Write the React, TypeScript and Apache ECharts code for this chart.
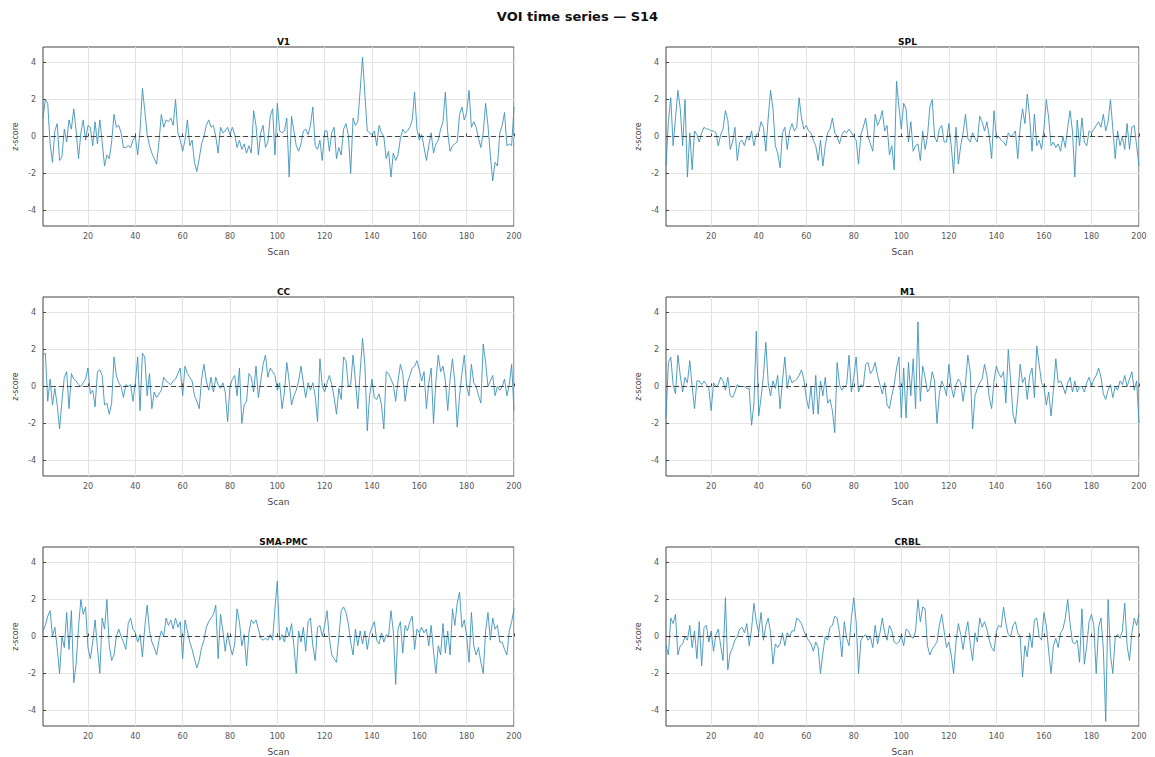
import React, { useEffect, useRef } from "react";
import * as echarts from "echarts";

const MAIN_TITLE = "VOI time series — S14";
const PANEL_TITLES = ["V1", "SPL", "CC", "M1", "SMA-PMC", "CRBL"];
const X_TICKS = [20, 40, 60, 80, 100, 120, 140, 160, 180, 200];
const Y_TICKS = [-4, -2, 0, 2, 4];
const Y_LIMIT = 4.85;

const V1 = [
  1.0, 2.0, 1.8, -0.4, -1.4, 0.3, 0.7, -1.3, -1.1, 0.4,
  -0.3, 0.9, 0.4, 1.5, 0.3, -1.2, 0.2, 0.9, -0.2, 0.6,
  0.5, -0.5, 0.8, -0.4, 0.9, -0.3, -1.6, -1.0, -1.2, -0.3,
  1.2, 0.5, 0.6, 0.2, -0.6, -0.6, -0.5, -0.6, -0.2, 0.0,
  -1.0, 0.3, 2.6, 1.4, 0.1, -0.5, -0.9, -1.2, -1.5, -0.3,
  1.2, 0.5, 0.9, 0.8, 1.0, 0.6, 2.0, 0.2, -0.2, -0.8,
  -0.2, 0.9, -0.5, -0.2, -1.4, -1.9, -1.2, -0.4, 0.0, 0.6,
  0.9, 0.5, 0.6, 0.0, -0.9, 0.5, 0.2, 0.3, 0.5, 0.1,
  0.5, 0.1, -0.6, -0.2, -0.7, -0.4, -0.9, -0.5, -0.9, 1.4,
  0.6, -1.0, 0.2, 0.6, -0.6, -0.3, 1.1, 1.5, -1.0, 1.8,
  0.3, 0.2, 0.3, 1.0, -2.2, 1.1, 0.3, -0.5, -0.8, -0.4,
  0.3, 0.4, 0.1, 0.6, 1.6, -0.5, -0.7, -0.2, -1.3, 0.3,
  0.3, -0.8, 0.2, 0.5, -1.2, -0.6, -1.0, 0.4, 0.7, 0.1,
  -2.0, 1.0, 0.6, 0.8, 2.5, 4.3, 2.3, 0.3, 0.2, 0.1,
  0.3, -0.5, 0.6, 0.2, 0.0, -1.2, -0.8, -2.2, -0.9, -1.3,
  -1.0, -0.1, 0.4, 0.2, 0.3, 0.5, 0.9, 2.4, 0.4, -0.2,
  0.1, -0.6, -1.3, -0.5, 0.2, -0.9, -0.4, -0.2, 0.4, 0.8,
  2.4, 0.2, -0.8, -0.5, -0.4, -0.3, 1.2, 1.6, 0.9, 1.3,
  2.5, 0.5, 0.8, 0.5, -0.1, -0.6, 0.2, 1.8, 0.6, -1.0,
  -2.4, -1.4, -1.6, 0.2, 0.6, 1.3, -0.5, -0.4, -0.5, 1.6,
];

const SPL = [
  -1.6, 0.8, 2.1, -0.5, 1.0, 2.5, 1.5, -0.5, 2.0, -2.2,
  0.2, -1.8, 0.3, 0.1, -0.3, 0.2, 0.5, 0.4, 0.4, 0.3,
  0.3, 0.2, -0.5, 0.1, 0.4, 1.4, 0.9, -0.7, -0.3, 0.5,
  -1.3, -0.3, -0.2, -0.5, 0.0, -0.2, 0.3, -0.5, 0.1, 0.2,
  0.8, 0.5, -0.8, 1.0, 2.5, 1.5, -0.5, -0.9, -1.7, 0.2,
  0.5, -0.7, 0.3, 0.7, 0.3, 0.5, 2.1, 1.0, 0.4, 0.6,
  0.3, 0.2, -0.2, -0.5, -1.3, -0.2, -1.6, -0.5, 0.2, 0.4,
  1.0, 0.2, 0.0, -0.4, 0.1, 0.3, 0.2, 0.4, 0.2, 0.0,
  -0.2, -1.5, 0.1, 0.5, 1.0, 0.0, -0.4, -0.8, 1.2, 0.6,
  0.9, 1.4, 0.3, 0.6, -1.0, -0.5, -1.8, 3.0, 1.6, 0.4,
  1.8, 1.5, -0.3, 0.8, -0.8, -0.5, -0.4, -1.3, 0.3, -0.7,
  0.0, 1.6, 2.0, 0.0, -0.3, 0.4, 0.6, -0.3, -0.3, 0.7,
  -0.5, -2.0, 0.5, -1.5, -0.5, 0.2, 1.2, -0.1, -0.3, 0.2,
  -0.1, -0.3, 1.1, 0.8, 0.3, 0.8, 0.0, -1.2, 1.4, -0.1,
  0.0, -0.2, -0.3, -0.5, 0.2, 0.0, 0.1, 0.3, -1.2, 0.5,
  1.5, 0.7, 2.3, 1.0, -0.8, 1.2, -0.5, -0.2, -0.7, 0.4,
  2.0, 1.0, -0.5, -0.3, -0.6, -0.4, -0.8, 0.0, -0.6, 0.5,
  1.4, 0.3, -2.2, 0.9, -0.5, 1.0, -0.3, -0.5, 0.3, 0.2,
  0.4, 0.6, 0.8, 0.5, 1.2, 0.3, 0.8, 2.0, 0.4, -1.2,
  0.3, -0.5, 0.0, -0.7, 0.7, -0.7, 0.5, 0.6, -0.5, -1.6,
];

const CC = [
  1.7, 1.8, -0.8, 0.4, -1.0, -0.1, -1.0, -2.3, -0.8, 0.5,
  0.8, -1.2, 0.7, 0.4, 0.3, 0.1, 0.0, 0.2, 0.4, 1.0,
  -0.4, -0.2, -1.1, 0.8, 0.9, 0.6, -1.0, -0.9, -1.5, -0.9,
  1.6, 0.6, 0.2, 0.0, -0.6, 0.1, 0.0, 0.1, -0.8, 0.2,
  1.6, -1.3, 1.8, 1.6, -0.5, 0.7, -1.2, -0.3, -0.6, -0.4,
  -0.2, 0.5, 0.3, 0.2, 0.1, 0.3, 0.4, 0.7, 1.0, -0.5,
  1.1, 0.7, 0.5, 0.3, -0.5, -0.8, -1.2, 0.4, 1.2, 0.3,
  -0.2, 0.5, -0.3, 0.5, 0.1, -0.1, 0.2, -0.3, -1.9, 0.0,
  0.4, 0.6, -0.5, 1.0, -2.0, -1.0, -0.8, 0.7, 0.5, -0.3,
  1.1, -0.6, 0.3, 1.2, 1.7, 0.5, 1.0, 0.8, 0.6, -0.2,
  0.2, -1.2, -0.3, 1.3, 0.3, -1.0, -0.5, -0.2, 0.3, 1.1,
  0.2, -0.6, 0.2, -0.2, 0.2, -0.5, -1.9, 1.5, 0.0, -0.3,
  0.2, 0.6, 0.1, -0.6, -1.5, -0.1, -0.7, 1.6, 1.4, 0.0,
  0.1, 1.7, 0.3, -1.2, 0.8, 2.6, 1.2, -2.4, -0.5, 0.4,
  -0.6, -0.7, -0.4, -1.0, -2.3, 0.8, 0.7, 0.4, 0.1, -0.8,
  0.3, 1.2, 0.7, -0.8, 0.2, 0.6, 1.0, 1.1, 1.4, 0.9,
  0.3, 0.8, -1.2, 0.2, 1.0, -2.0, 0.3, 1.7, 0.8, 1.1,
  0.3, -1.3, 0.4, 1.5, 0.2, -2.2, -0.5, 0.7, 1.7, 0.0,
  -0.5, 1.2, 0.2, 0.0, -0.5, -0.9, 2.3, 1.3, 0.0, 0.3,
  0.6, -0.5, 0.0, -0.2, 0.0, 0.4, -0.5, 0.1, 1.2, -1.3,
];

const M1 = [
  -1.7, 1.3, 1.6, 0.1, -0.4, 1.7, 0.6, -0.3, 0.5, 0.2,
  1.4, 0.0, -1.2, 0.3, 0.3, 0.1, 0.3, 0.1, -0.1, -1.3,
  0.2, 0.0, 0.1, 0.5, 0.3, -0.2, 0.5, -0.5, -0.6, -0.3,
  0.1, 0.0, 0.0, 0.0, -0.1, -0.1, -2.1, -0.9, 3.0, -1.6,
  -0.6, 0.6, 2.4, 0.2, -0.5, 0.3, -0.1, 0.6, -1.2, 0.3,
  1.6, -0.1, 0.6, 0.2, 0.3, 0.4, 0.6, 0.9, 0.4, -0.6,
  -1.2, 0.0, -1.5, 0.6, -1.5, 0.3, -0.5, 0.5, -0.9, -0.7,
  -1.3, -2.5, 1.3, 0.1, -0.2, 0.0, 0.1, 1.7, -0.3, 0.5,
  1.6, -0.3, 0.1, 0.0, 1.2, 1.3, 0.7, 0.9, 1.3, 0.6,
  0.1, -0.4, 0.2, -1.0, -1.2, -0.5, 0.1, 1.0, 1.6, -1.7,
  1.0, -1.7, 1.3, -0.5, 1.5, -1.2, 3.5, -0.8, 1.1, 0.5,
  -0.3, -0.1, 0.8, 0.3, -2.0, -0.4, 0.3, 0.0, -0.5, 1.2,
  0.0, -0.6, 0.1, 0.4, 0.2, -0.8, 0.2, 1.7, 0.8, -2.3,
  -0.5, -0.1, 0.2, 0.4, 1.2, 0.6, -0.6, -1.2, 0.3, 1.1,
  0.7, 0.5, 0.8, -0.9, 2.0, 0.3, -1.5, -2.0, -0.6, 1.2,
  0.2, 0.5, -0.7, 0.6, 1.0, -0.6, 2.2, 1.2, 0.2, 0.0,
  -1.0, -0.3, -1.6, -0.2, 1.5, 0.2, 0.3, 0.0, -0.4, 0.2,
  0.5, -0.3, 0.3, -0.3, 0.0, 0.0, -0.3, 0.2, 0.5, 0.0,
  0.4, 0.6, 1.0, 0.5, -0.4, -0.7, -0.2, 0.1, -0.6, 0.0,
  -0.2, 0.3, 0.1, 0.6, 0.0, 0.4, 0.8, -0.2, 0.3, -2.0,
];

const SMA_PMC = [
  0.3, 0.6, 1.1, 1.4, 0.0, 0.5, -0.6, -2.0, 0.0, -0.6,
  1.3, -0.7, 1.4, -2.5, -1.5, 0.5, 2.0, 1.2, 1.6, -0.6,
  -1.2, -0.3, 0.9, -0.6, -2.0, 1.0, 0.4, 2.0, -0.5, -1.3,
  -1.0, 0.0, 0.4, 0.0, -0.3, -0.7, 0.7, 1.0, 0.4, 0.2,
  -0.3, 0.1, -1.1, 0.5, 1.7, 0.3, -0.3, -0.6, -1.0, -0.2,
  0.3, 0.0, 1.0, 0.6, 0.9, 0.4, 1.0, 0.5, 0.8, -1.2,
  0.9, 0.3, -0.3, -0.7, -1.2, -1.7, -1.3, -0.6, -0.2, 0.5,
  0.8, 1.0, 1.2, 1.7, -1.2, 1.2, 0.3, -0.8, 0.2, -0.5,
  -1.0, -0.4, 1.5, 0.8, -0.5, 0.1, -1.6, 0.2, 0.9, 0.7,
  0.9, 0.4, -0.1, -0.2, -0.1, -0.2, 0.1, -0.2, 1.5, 3.0,
  -0.2, 0.1, -0.3, 0.5, 0.0, 0.7, -0.5, -2.0, 0.3, -0.3,
  0.5, -0.8, 0.8, 1.0, -0.5, -1.3, 0.5, 0.6, 0.0, 0.6,
  1.4, -0.1, -1.0, -1.2, -1.4, 0.0, 1.4, 1.6, 1.3, 0.7,
  -0.3, -1.0, 0.4, -0.5, 0.3, -0.4, 0.3, -0.7, 0.1, 0.5,
  0.8, -0.2, -0.4, 0.2, -0.3, 0.1, 0.0, 1.4, 0.3, -2.6,
  0.4, 0.8, -0.9, 0.6, 0.3, 0.8, 1.1, -0.7, 0.4, 0.2,
  0.5, 0.2, 0.4, -0.5, 0.6, -0.8, -2.0, -0.5, -1.0, 0.7,
  -0.9, 0.3, -1.0, 1.5, 0.6, 1.8, 2.4, 0.5, 0.9, 0.0,
  -1.4, 1.3, -0.5, -1.0, -0.6, -1.4, -2.0, 0.3, 1.3, -0.2,
  1.0, 0.4, 0.6, -0.3, -0.3, -0.7, -1.0, 0.3, 0.8, 1.5,
];

const CRBL = [
  -0.5, -1.0, 1.0, 0.7, 1.2, -1.0, -0.5, -0.4, 0.0, -0.2,
  0.6, -0.6, 0.3, -1.2, 0.8, -1.6, 0.5, 0.6, -0.3, 0.3,
  -0.8, 0.1, 0.4, -0.5, -1.3, 2.1, -1.8, -0.9, -0.6, -0.2,
  0.0, 0.4, 0.5, 0.2, 0.7, -0.5, 0.4, 1.8, 0.8, 0.2,
  1.3, -0.2, 0.6, 1.0, 0.2, -1.5, -0.4, -0.6, -0.4, 0.2,
  -0.5, 0.2, 0.0, 0.3, 0.3, 1.0, 0.9, 0.7, 0.3, 0.0,
  -0.2, -0.4, -0.8, -0.3, -0.6, -2.0, -0.9, 0.0, -0.2, 0.5,
  0.6, 1.1, 1.0, 0.2, -1.1, 0.8, -0.1, -0.5, 1.0, 2.1,
  0.8, -2.0, -0.2, 0.0, 0.1, -0.2, 0.0, -0.6, 0.6, -0.4,
  0.2, 1.0, 0.2, -0.2, 0.6, 0.3, -0.3, -0.4, -0.3, 0.0,
  -0.5, 0.4, 0.3, 0.0, -0.1, 0.3, 2.0, 0.8, 1.6, 1.5,
  -0.5, -1.0, -0.7, -0.5, -0.3, 0.6, 1.2, 0.3, -0.6, -0.3,
  -1.0, -2.0, -0.3, 0.7, 0.1, -0.7, 0.2, 0.8, -0.4, -1.3,
  0.2, -0.3, 1.0, 0.5, 0.8, 0.4, -0.2, -0.6, -0.8, 0.3,
  0.6, 0.5, 1.6, 0.7, 0.1, 0.0, 0.6, 0.8, 0.2, 0.0,
  -2.2, -0.5, -1.1, 0.2, -0.6, 0.9, 1.0, 0.0, -0.2, 1.3,
  0.6, -0.8, -2.0, -0.5, -0.1, -0.6, 0.2, 0.4, 1.0, 2.0,
  0.7, -0.3, -0.4, -0.2, -1.4, 1.5, -1.5, -0.5, 0.8, 1.2,
  0.6, -2.0, 0.5, 1.0, -0.7, -4.6, 2.0, -1.0, -2.0, 0.0,
  0.1, -0.1, 0.3, 1.8, -0.5, -1.3, 0.2, 1.0, 0.6, 1.2,
];

const SERIES = [V1, SPL, CC, M1, SMA_PMC, CRBL];

const FONT = "DejaVu Sans";
const LINE_COLOR = "#3d93bb";

export default function App() {
  const ref = useRef<HTMLDivElement>(null);

  useEffect(() => {
    document.body.style.margin = "0";
    if (!ref.current) return;
    const chart = echarts.init(ref.current, undefined, { renderer: "svg" });

    const lefts = [43, 666];
    const widths = [471, 473];
    const tops = [47, 297, 547];
    const height = 179;

    const grids: any[] = [];
    const xAxes: any[] = [];
    const yAxes: any[] = [];
    const series: any[] = [];
    const titles: any[] = [
      {
        text: MAIN_TITLE,
        left: "center",
        top: 5,
        textStyle: { fontFamily: FONT, fontSize: 13, fontWeight: "bold", color: "#111" },
      },
    ];

    SERIES.forEach((vals, i) => {
      const col = i % 2;
      const row = Math.floor(i / 2);
      grids.push({
        left: lefts[col],
        top: tops[row],
        width: widths[col],
        height,
        show: true,
        borderColor: "#444",
        borderWidth: 1,
        backgroundColor: "#fff",
      });
      titles.push({
        text: PANEL_TITLES[i],
        left: lefts[col] + widths[col] / 2,
        textAlign: "center",
        top: tops[row] - 15,
        textStyle: { fontFamily: FONT, fontSize: 9, fontWeight: "bold", color: "#111" },
      });
      xAxes.push({
        type: "value",
        gridIndex: i,
        min: 1,
        max: 200,
        name: "Scan",
        nameLocation: "middle",
        nameGap: 21,
        nameTextStyle: { fontFamily: FONT, fontSize: 9, color: "#444" },
        axisLine: { show: false },
        axisTick: { show: true, inside: true, length: 3, customValues: X_TICKS, lineStyle: { color: "#444" } },
        axisLabel: { customValues: X_TICKS, fontFamily: FONT, fontSize: 8, color: "#555", margin: 6 },
        splitLine: { show: true, lineStyle: { color: "#e3e3e3", width: 1 } },
      });
      yAxes.push({
        type: "value",
        gridIndex: i,
        min: -Y_LIMIT,
        max: Y_LIMIT,
        name: "z-score",
        nameLocation: "middle",
        nameGap: 24,
        nameRotate: 90,
        nameTextStyle: { fontFamily: FONT, fontSize: 8, color: "#444" },
        axisLine: { show: false },
        axisTick: { show: true, inside: true, length: 3, customValues: Y_TICKS, lineStyle: { color: "#444" } },
        axisLabel: { customValues: Y_TICKS, fontFamily: FONT, fontSize: 8, color: "#555", margin: 7 },
        splitLine: { show: true, lineStyle: { color: "#e3e3e3", width: 1 } },
      });
      series.push({
        type: "line",
        xAxisIndex: i,
        yAxisIndex: i,
        data: vals.map((v, k) => [k + 1, v]),
        showSymbol: false,
        symbol: "none",
        lineStyle: { color: LINE_COLOR, width: 0.9 },
        z: 3,
        markLine: {
          silent: true,
          symbol: "none",
          label: { show: false },
          lineStyle: { color: "#333", type: [5, 3], width: 0.9 },
          data: [{ yAxis: 0 }],
          z: 4,
        },
      });
    });

    chart.setOption({
      animation: false,
      backgroundColor: "#fff",
      title: titles,
      grid: grids,
      xAxis: xAxes,
      yAxis: yAxes,
      series,
    });

    return () => {
      chart.dispose();
    };
  }, []);

  return <div ref={ref} style={{ width: 1155, height: 757 }} />;
}
